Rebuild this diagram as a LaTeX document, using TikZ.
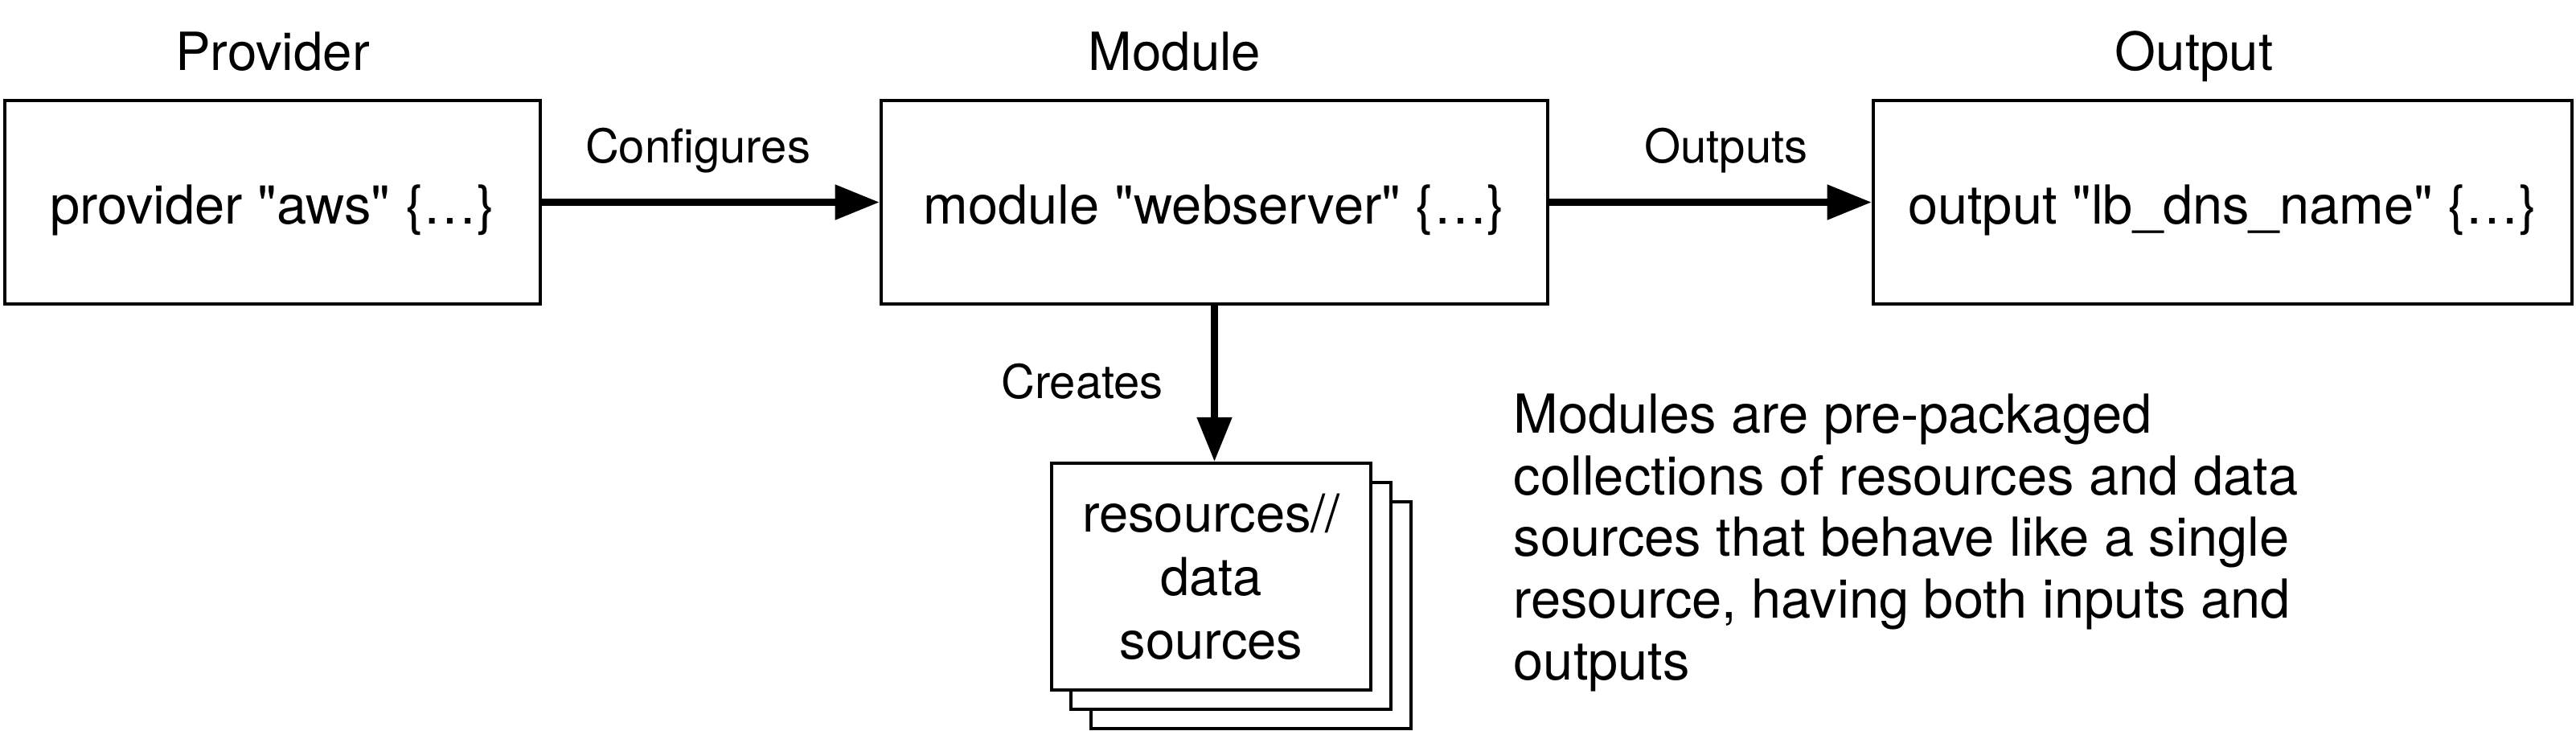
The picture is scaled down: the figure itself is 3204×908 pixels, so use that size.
\documentclass[tikz,border=0pt]{standalone}
\usepackage{fontspec}
\newfontfamily\hv{TeX Gyre Heros}
\usetikzlibrary{arrows.meta}
\tikzset{
  box/.style={draw=black, line width=1.15pt, fill=white, inner sep=0pt,
    minimum height=2.53cm, text height=0.67cm, text depth=0.14cm,
    font=\hv\fontsize{19pt}{22pt}\selectfont},
  stackbox/.style={draw=black, line width=1.15pt, fill=white, inner sep=0pt,
    minimum width=3.97cm, minimum height=2.82cm, align=center,
    font=\hv\fontsize{18.5pt}{22.4pt}\selectfont},
  title/.style={anchor=base, inner sep=0pt, font=\hv\fontsize{18.6pt}{22pt}\selectfont},
  elabel/.style={anchor=base, inner sep=0pt, font=\hv\fontsize{16.5pt}{20pt}\selectfont},
  arr/.style={line width=2.3pt, -{Triangle[length=0.55cm,width=0.42cm]}},
  para/.style={anchor=north west, inner sep=0pt, align=left,
    font=\hv\fontsize{19pt}{21.8pt}\selectfont}
}
\begin{document}
\begin{tikzpicture}[x=0.01cm, y=-0.01cm]
\useasboundingbox (0,0) rectangle (3204,908);
% titles
\node[title] (tprov) at (339,87) {Provider};
\node[title] (tmod) at (1461,87) {Module};
\node[title] (tout) at (2729,87) {Output};
% main boxes
\node[box, minimum width=6.66cm] (prov) at (339,251.5) {provider "aws" \{…\}};
\node[box, minimum width=8.29cm] (mod) at (1510.5,251.5) {module "webserver" \{…\}};
\node[box, minimum width=8.69cm] (out) at (2764.5,251.5) {output "lb\_dns\_name" \{…\}};
% stacked resource boxes
\node[stackbox] (back) at (1556,765) {};
\node[stackbox] (mid) at (1531,741) {};
\node[stackbox] (front) at (1506.5,717) {resources//\\data\\sources};
% connectors
\draw[arr] (prov) -- (mod);
\draw[arr] (mod) -- (out);
\draw[arr] (mod.south) -- (mod.south |- front.north);
% edge labels
\node[elabel] (lconf) at (868,202) {Configures};
\node[elabel] (lout) at (2147,202) {Outputs};
\node[elabel] (lcre) at (1346,495) {Creates};
% description
\node[para] (desc) at (1882,489) {Modules are pre-packaged\\collections of resources and data\\sources that behave like a single\\resource, having both inputs and\\outputs};
\end{tikzpicture}
\end{document}
